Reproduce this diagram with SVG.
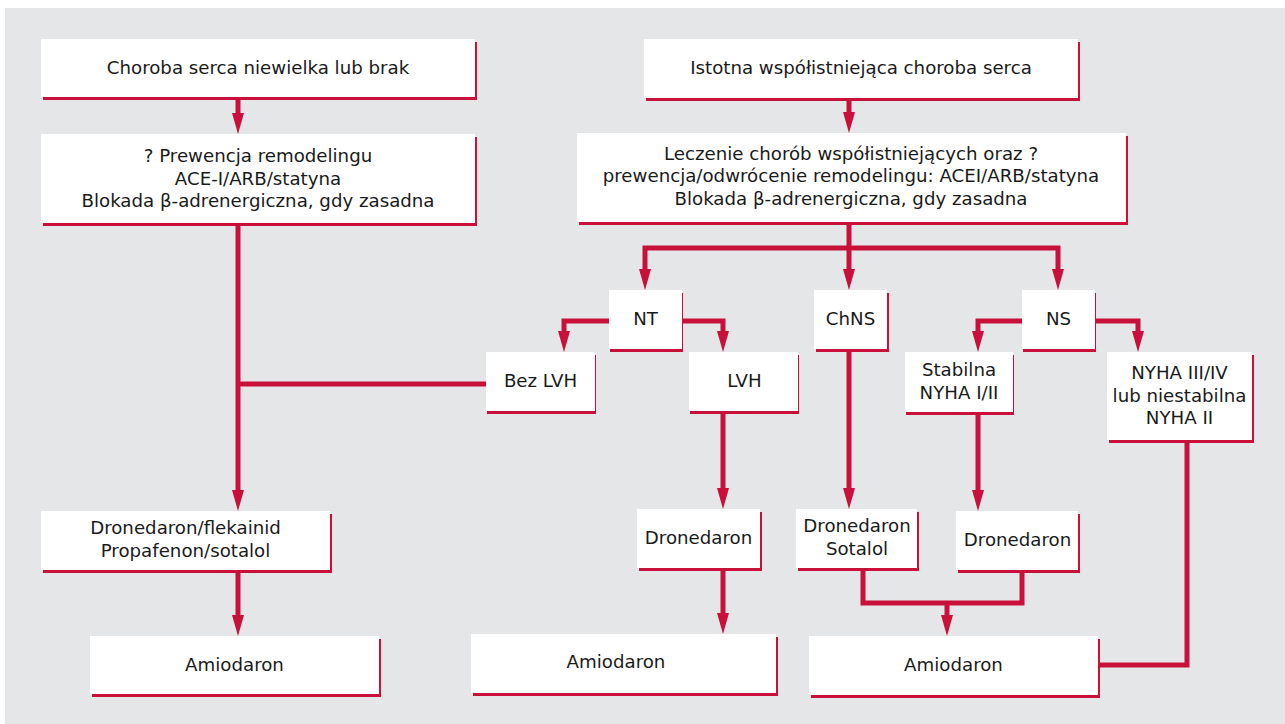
<svg xmlns="http://www.w3.org/2000/svg" width="1285" height="724" viewBox="0 0 1285 724">
<style>
.bx{fill:#ffffff}
.sh{fill:#c8103a}
.t{font-family:"DejaVu Sans","Open Sans",sans-serif;font-size:18.2px;fill:#1a1a1a;text-anchor:middle}
.c{fill:none;stroke:#c8103a;stroke-width:5;stroke-linejoin:miter;stroke-linecap:butt}
</style>
<defs>
<marker id="ah" viewBox="0 0 21 12" markerWidth="21" markerHeight="12" markerUnits="userSpaceOnUse" refX="9" refY="6" orient="auto">
<path d="M0,0 L21,6 L0,12 z" fill="#c8103a"/>
</marker>
</defs>
<rect x="5" y="8" width="1280" height="716" fill="#e5e6e8"/>

<g id="connectors">
<path class="c" d="M238,100 V122" marker-end="url(#ah)"/>
<path class="c" d="M849,101 V121" marker-end="url(#ah)"/>
<path class="c" d="M849,225 V278" marker-end="url(#ah)"/>
<path class="c" d="M849,248 H645 V278" marker-end="url(#ah)"/>
<path class="c" d="M849,248 H1058 V278" marker-end="url(#ah)"/>
<path class="c" d="M609,321 H564 V340" marker-end="url(#ah)"/>
<path class="c" d="M682,321 H723 V340" marker-end="url(#ah)"/>
<path class="c" d="M1022,321 H978 V340" marker-end="url(#ah)"/>
<path class="c" d="M1095,321 H1138 V340" marker-end="url(#ah)"/>
<path class="c" d="M238,226 V499" marker-end="url(#ah)"/>
<path class="c" d="M486,384 H238"/>
<path class="c" d="M723,414 V497" marker-end="url(#ah)"/>
<path class="c" d="M849,352 V497" marker-end="url(#ah)"/>
<path class="c" d="M978,415 V499" marker-end="url(#ah)"/>
<path class="c" d="M1187,443 V665 H1098"/>
<path class="c" d="M863,571 V603 H1022 V573"/>
<path class="c" d="M947,603 V624" marker-end="url(#ah)"/>
<path class="c" d="M238,573 V624" marker-end="url(#ah)"/>
<path class="c" d="M723,571 V622" marker-end="url(#ah)"/>
</g>

<g id="n1"><rect class="sh" x="43" y="42" width="434" height="58"/><rect class="bx" x="41" y="39" width="434" height="58"/>
<text class="t" x="258" y="74">Choroba serca niewielka lub brak</text></g>

<g id="n2"><rect class="sh" x="43" y="137" width="434" height="89"/><rect class="bx" x="41" y="134" width="434" height="89"/>
<text class="t" x="258" y="162">? Prewencja remodelingu</text>
<text class="t" x="258" y="184.5">ACE-I/ARB/statyna</text>
<text class="t" x="258" y="207">Blokada β-adrenergiczna, gdy zasadna</text></g>

<g id="n3"><rect class="sh" x="646" y="42" width="434" height="59"/><rect class="bx" x="644" y="39" width="434" height="59"/>
<text class="t" x="861" y="74">Istotna współistniejąca choroba serca</text></g>

<g id="n4"><rect class="sh" x="579" y="136" width="549" height="89"/><rect class="bx" x="577" y="133" width="549" height="89"/>
<text class="t" x="851" y="160">Leczenie chorób współistniejących oraz ?</text>
<text class="t" x="851" y="182">prewencja/odwrócenie remodelingu: ACEI/ARB/statyna</text>
<text class="t" x="851" y="204.5">Blokada β-adrenergiczna, gdy zasadna</text></g>

<g id="n5"><rect class="sh" x="610" y="293" width="73" height="59"/><rect class="bx" x="609" y="290" width="73" height="59"/>
<text class="t" x="645.5" y="325">NT</text></g>

<g id="n6"><rect class="sh" x="816" y="293" width="73" height="59"/><rect class="bx" x="814" y="290" width="73" height="59"/>
<text class="t" x="850.5" y="325">ChNS</text></g>

<g id="n7"><rect class="sh" x="1023" y="293" width="73" height="59"/><rect class="bx" x="1022" y="290" width="73" height="59"/>
<text class="t" x="1058.5" y="325">NS</text></g>

<g id="n8"><rect class="sh" x="487" y="355" width="109" height="59"/><rect class="bx" x="486" y="352" width="109" height="59"/>
<text class="t" x="540.5" y="387">Bez LVH</text></g>

<g id="n9"><rect class="sh" x="690" y="355" width="109" height="59"/><rect class="bx" x="689" y="352" width="109" height="59"/>
<text class="t" x="744.5" y="387">LVH</text></g>

<g id="n10"><rect class="sh" x="906" y="355" width="108" height="60"/><rect class="bx" x="905" y="352" width="108" height="60"/>
<text class="t" x="959" y="376">Stabilna</text>
<text class="t" x="959" y="399">NYHA I/II</text></g>

<g id="n11"><rect class="sh" x="1109" y="355" width="145" height="88"/><rect class="bx" x="1107" y="352" width="145" height="88"/>
<text class="t" x="1179.5" y="379">NYHA III/IV</text>
<text class="t" x="1179.5" y="401.5">lub niestabilna</text>
<text class="t" x="1179.5" y="424">NYHA II</text></g>

<g id="n12"><rect class="sh" x="43" y="514" width="289" height="59"/><rect class="bx" x="41" y="511" width="289" height="59"/>
<text class="t" x="185.5" y="534">Dronedaron/flekainid</text>
<text class="t" x="185.5" y="556.5">Propafenon/sotalol</text></g>

<g id="n13"><rect class="sh" x="639" y="512" width="123" height="59"/><rect class="bx" x="637" y="509" width="123" height="59"/>
<text class="t" x="698.5" y="544">Dronedaron</text></g>

<g id="n14"><rect class="sh" x="798" y="512" width="121" height="59"/><rect class="bx" x="796" y="509" width="121" height="59"/>
<text class="t" x="857" y="532">Dronedaron</text>
<text class="t" x="857" y="555">Sotalol</text></g>

<g id="n15"><rect class="sh" x="958" y="514" width="122" height="59"/><rect class="bx" x="956" y="511" width="122" height="59"/>
<text class="t" x="1017.5" y="546">Dronedaron</text></g>

<g id="n16"><rect class="sh" x="92" y="639" width="289" height="58"/><rect class="bx" x="90" y="636" width="289" height="58"/>
<text class="t" x="234.5" y="671">Amiodaron</text></g>

<g id="n17"><rect class="sh" x="473" y="637" width="305" height="59"/><rect class="bx" x="471" y="634" width="305" height="59"/>
<text class="t" x="616" y="668">Amiodaron</text></g>

<g id="n18"><rect class="sh" x="811" y="639" width="289" height="59"/><rect class="bx" x="809" y="636" width="289" height="59"/>
<text class="t" x="953.5" y="671">Amiodaron</text></g>
</svg>
